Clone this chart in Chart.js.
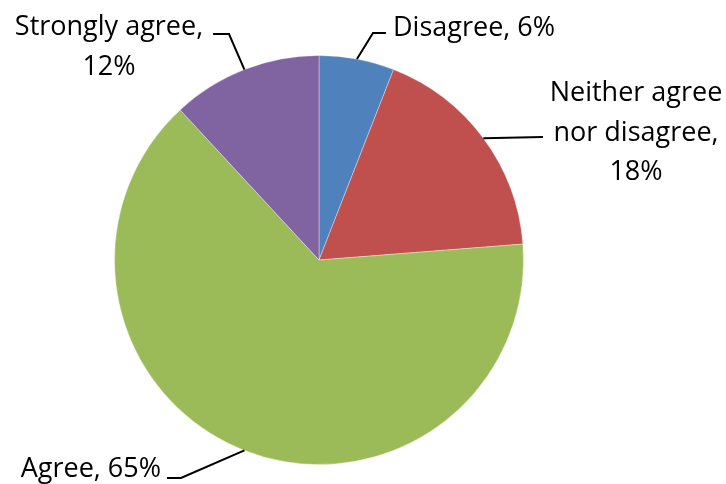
<!DOCTYPE html>
<html>
<head>
<meta charset="utf-8">
<script src="https://cdn.jsdelivr.net/npm/chart.js@4"></script>
<style>
  html, body { margin: 0; padding: 0; background: #fff; }
  canvas { display: block; }
</style>
</head>
<body>
<canvas id="myChart" width="726" height="484"></canvas>
<script>
// survey answers, clockwise from 12 o'clock
const categories = ["Disagree", "Neither agree nor disagree", "Agree", "Strongly agree"];
const shares = [6, 18, 65, 12];
const sliceColors = ["#4F81BD", "#C0504D", "#9BBB59", "#8064A2"];

// how each data label is broken into lines
const labelLines = [
	["Disagree, 6%"],
	["Neither agree", "nor disagree,", "18%"],
	["Agree, 65%"],
	["Strongly agree,", "12%"],
];

// leader line bend + end, text anchor and alignment for each label
const labelLayout = [
	{ elbow: [373, 33], end: [386, 33], text: [393, 36], align: "left" },
	{ elbow: [543, 137], end: [543, 137], text: [636, 101], align: "center" },
	{ elbow: [181, 478], end: [167, 478], text: [161, 477], align: "right" },
	{ elbow: [229, 34], end: [213, 34], text: [109, 35], align: "center" },
];

const FONT = "27px 'Open Sans'";
const LINE_GAP = 39.5;

const pieLabels = {
	id: "pieLabels",
	afterDatasetsDraw(chart) {
		const ctx = chart.ctx;
		const arcs = chart.getDatasetMeta(0).data;
		ctx.save();
		arcs.forEach((arc, i) => {
			const p = arc.getProps(["x", "y", "startAngle", "endAngle", "outerRadius"], true);
			const mid = (p.startAngle + p.endAngle) / 2;
			const sx = p.x + Math.cos(mid) * p.outerRadius;
			const sy = p.y + Math.sin(mid) * p.outerRadius;
			const lay = labelLayout[i];

			ctx.strokeStyle = "#000";
			ctx.lineWidth = 2;
			ctx.beginPath();
			ctx.moveTo(sx, sy);
			ctx.lineTo(lay.elbow[0], lay.elbow[1]);
			ctx.lineTo(lay.end[0], lay.end[1]);
			ctx.stroke();

			ctx.fillStyle = "#000";
			ctx.font = FONT;
			ctx.textAlign = lay.align;
			ctx.textBaseline = "alphabetic";
			labelLines[i].forEach((line, k) => {
				ctx.fillText(line, lay.text[0], lay.text[1] + k * LINE_GAP);
			});
		});
		ctx.restore();
	},
};

new Chart("myChart", {
	type: "pie",
	data: {
		labels: categories,
		datasets: [
			{
				data: shares,
				backgroundColor: sliceColors,
				borderColor: "rgba(255,255,255,0.35)",
				borderWidth: 1,
			},
		],
	},
	options: {
		responsive: false,
		animation: false,
		layout: { padding: { top: 55, bottom: 19, left: 0, right: 88 } },
		plugins: {
			legend: { display: false },
			tooltip: { enabled: false },
		},
	},
	plugins: [pieLabels],
});
</script>
</body>
</html>
